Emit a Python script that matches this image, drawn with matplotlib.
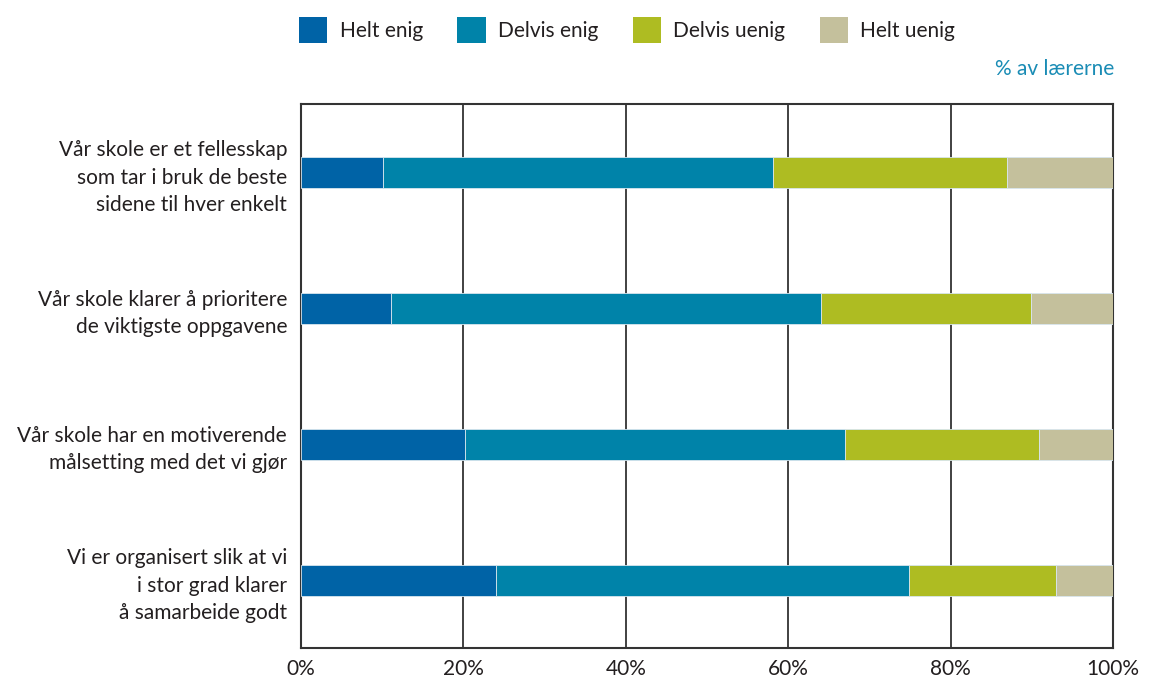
import numpy as np
import matplotlib.pyplot as plt
from matplotlib.patches import Patch

plt.rcParams['font.family'] = ['Lato', 'DejaVu Sans']

statements = [
    'Vår skole er et fellesskap\nsom tar i bruk de beste\nsidene til hver enkelt',
    'Vår skole klarer å prioritere\nde viktigste oppgavene',
    'Vår skole har en motiverende\nmålsetting med det vi gjør',
    'Vi er organisert slik at vi\ni stor grad klarer\nå samarbeide godt',
]
categories = ['Helt enig', 'Delvis enig', 'Delvis uenig', 'Helt uenig']
helt_enig = [10.1, 11.1, 20.2, 24.0]
delvis_enig = [48.0, 52.9, 46.8, 50.9]
delvis_uenig = [28.9, 25.9, 23.9, 18.1]
helt_uenig = [13.0, 10.1, 9.1, 7.0]
colors = ['#0063a6', '#0083a9', '#aebc22', '#c4c09c']

fig = plt.figure(figsize=(11.51, 6.8), dpi=100)
ax = fig.add_axes([0.2615, 0.047, 0.7055, 0.800])

y = np.arange(len(statements))
left = np.zeros(len(statements))
for vals, c in zip([helt_enig, delvis_enig, delvis_uenig, helt_uenig], colors):
    ax.barh(y, vals, left=left, height=0.228, color=c,
            edgecolor='#d8e6ee', linewidth=0.6, zorder=3)
    left += np.array(vals)

ax.set_xlim(0, 100)
ax.set_ylim(3.5, -0.5)
ax.set_xticks([0, 20, 40, 60, 80, 100])
ax.set_xticklabels(['0%', '20%', '40%', '60%', '80%', '100%'])
ax.set_yticks(y)
ax.set_yticklabels(statements, ha='right', linespacing=1.45)
ax.tick_params(axis='both', length=0, labelsize=15, colors='#231f20')
ax.tick_params(axis='y', pad=10)
ax.tick_params(axis='x', pad=8)
ax.grid(axis='x', color='#333333', linewidth=1.3, zorder=1)
for s in ax.spines.values():
    s.set_color('#333333')
    s.set_linewidth(1.5)

handles = [Patch(facecolor=c, edgecolor='none') for c in colors]
fig.legend(handles, categories, loc='center', bbox_to_anchor=(0.545, 0.956),
           ncol=4, frameon=False, fontsize=15, handlelength=1.35,
           handleheight=1.5, handletextpad=0.6, columnspacing=1.65,
           labelcolor='#231f20')

fig.text(0.968, 0.898, '% av lærerne', ha='right', va='center',
         fontsize=15, color='#1a8cb5')

fig.savefig('out.png', dpi=100)
